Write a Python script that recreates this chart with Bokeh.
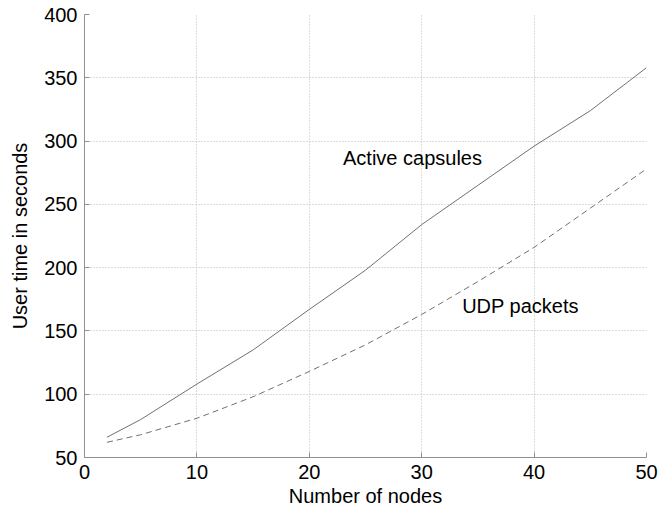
from bokeh.plotting import figure
from bokeh.embed import file_html
from bokeh.resources import INLINE
from bokeh.models import FixedTicker, Label

nodes = [2, 5, 10, 15, 20, 25, 30, 35, 40, 45, 50]
active_capsules = [66, 80, 108, 135, 167, 198, 234, 265, 296, 324, 358]
udp_packets = [62, 68, 81, 98, 118, 139, 163, 189, 216, 247, 278]
x_ticks = [0, 10, 20, 30, 40, 50]
y_ticks = [50, 100, 150, 200, 250, 300, 350, 400]

FONT = "Liberation Sans"

p = figure(width=658, height=511, x_range=(0, 50), y_range=(50, 400),
           output_backend="svg", toolbar_location=None,
           min_border_left=84, min_border_top=14, min_border_right=12, min_border_bottom=54)
p.outline_line_color = None
p.background_fill_color = "white"
p.border_fill_color = "white"

p.line(nodes, active_capsules, line_color="#707070", line_width=1)
p.line(nodes, udp_packets, line_color="#707070", line_width=1, line_dash="6 4")

for ax in (p.xaxis[0], p.yaxis[0]):
    ax.axis_line_color = "#909090"
    ax.major_tick_line_color = "#909090"
    ax.major_tick_in = 5
    ax.major_tick_out = 0
    ax.minor_tick_line_color = None
    ax.major_label_text_font = FONT
    ax.major_label_text_font_size = "20px"
    ax.major_label_text_color = "black"
    ax.axis_label_text_font = FONT
    ax.axis_label_text_font_size = "20px"
    ax.axis_label_text_font_style = "normal"
    ax.axis_label_text_color = "black"

p.xaxis.ticker = FixedTicker(ticks=x_ticks)
p.yaxis.ticker = FixedTicker(ticks=y_ticks)
p.xaxis.axis_label = "Number of nodes"
p.yaxis.axis_label = "User time in seconds"
p.xaxis.major_label_standoff = 7
p.xaxis.axis_label_standoff = 3
p.yaxis.major_label_standoff = 7
p.yaxis.axis_label_standoff = 10

p.grid.grid_line_color = "#b8b8b8"
p.grid.grid_line_dash = "1 2"
p.grid.grid_line_width = 1

p.add_layout(Label(x=23, y=287, text="Active capsules", text_font=FONT,
                   text_font_size="20px", text_baseline="middle", text_color="black"))
p.add_layout(Label(x=33.6, y=170, text="UDP packets", text_font=FONT,
                   text_font_size="20px", text_baseline="middle", text_color="black"))

open("out.html", "w").write(file_html(p, INLINE))
